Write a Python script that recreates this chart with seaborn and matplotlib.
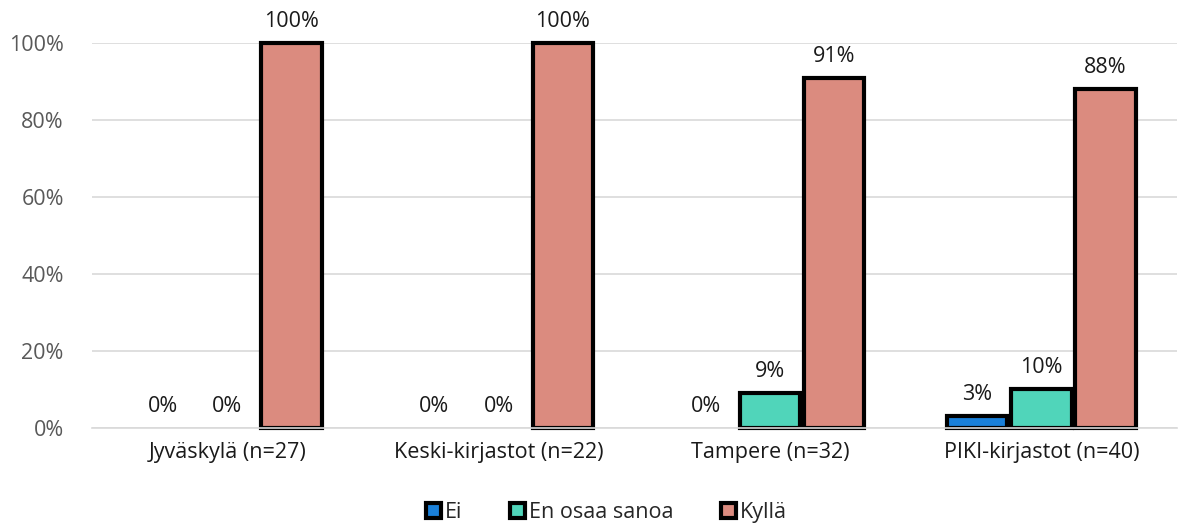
import numpy as np
import pandas as pd
import seaborn as sns
import matplotlib.pyplot as plt
from matplotlib.ticker import PercentFormatter

categories = ["Jyväskylä (n=27)", "Keski-kirjastot (n=22)", "Tampere (n=32)", "PIKI-kirjastot (n=40)"]
answers = ["Ei", "En osaa sanoa", "Kyllä"]
ei = [0, 0, 0, 3]
en_osaa = [0, 0, 9, 10]
kylla = [100, 100, 91, 88]
colors = ["#1a80d9", "#50d5ba", "#db8b7f"]

df = pd.DataFrame({
    "ryhma": categories * 3,
    "vastaus": [a for a in answers for _ in categories],
    "osuus": ei + en_osaa + kylla,
})

sns.set_style("white")
plt.rcParams["font.family"] = ["Open Sans", "DejaVu Sans"]

fig = plt.figure(figsize=(11.89, 5.27), dpi=100)
ax = fig.add_axes([0.077, 0.188, 0.913, 0.73])

sns.barplot(data=df, x="ryhma", y="osuus", hue="vastaus", hue_order=answers,
            palette=colors, saturation=1, width=0.71, gap=0.06,
            edgecolor="black", linewidth=3, ax=ax, legend=True)

for cont in ax.containers:
    for b in cont:
        b.set_clip_on(False)
        if b.get_height() == 0:
            b.set_linewidth(0)
    ax.bar_label(cont, labels=[f"{v:.0f}%" for v in cont.datavalues],
                 padding=8, fontsize=15.5, color="#1a1a1a")

ax.set_ylim(0, 100)
ax.set_xlim(-0.5, 3.5)
ax.set_yticks(np.arange(0, 101, 20))
ax.yaxis.set_major_formatter(PercentFormatter(100, decimals=0))
ax.grid(axis="y", color="#d9d9d9", linewidth=1.2)
ax.set_axisbelow(True)
for s in ["top", "right", "left"]:
    ax.spines[s].set_visible(False)
ax.spines["bottom"].set_color("#d9d9d9")
ax.spines["bottom"].set_linewidth(1.2)
ax.tick_params(axis="y", labelsize=15.5, labelcolor="#595959", length=0, pad=20)
ax.tick_params(axis="x", labelsize=15.5, labelcolor="#1a1a1a", length=0, pad=10)
ax.set_xlabel("")
ax.set_ylabel("")

h, l = ax.get_legend_handles_labels()
ax.legend(h, l, loc="upper center", bbox_to_anchor=(0.51, 0.085),
          bbox_transform=fig.transFigure, ncol=3, frameon=False, fontsize=15.5,
          handlelength=0.7, handleheight=0.7, handletextpad=0.2,
          columnspacing=2.2)

fig.savefig("out.png", dpi=100)
